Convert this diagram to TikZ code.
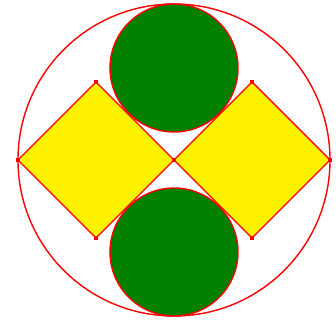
\documentclass[tikz,border=0pt]{standalone}
\begin{document}
\begin{tikzpicture}[x=1pt,y=1pt,
  ln/.style={draw=red,line width=1.4pt},
  mk/.style={fill=red,minimum size=4pt,inner sep=0pt,draw=none,rectangle}]
\useasboundingbox (0,0) rectangle (336,323);
\node[ln,circle,minimum size=312pt,inner sep=0pt] (big) at (174,163) {};
\node[ln,circle,fill={rgb,255:red,0;green,128;blue,0},minimum size=128pt,inner sep=0pt] (top) at (174,255) {};
\node[ln,circle,fill={rgb,255:red,0;green,128;blue,0},minimum size=128pt,inner sep=0pt] (bot) at (174,71) {};
\coordinate (l1) at (18,163);
\coordinate (l2) at (96,241);
\coordinate (c) at (174,163);
\coordinate (l4) at (96,85);
\coordinate (r2) at (252,241);
\coordinate (r3) at (330,163);
\coordinate (r4) at (252,85);
\draw[ln,fill=yellow,line join=miter] (l1) -- (l2) -- (c) -- (l4) -- cycle;
\draw[ln,fill=yellow,line join=miter] (c) -- (r2) -- (r3) -- (r4) -- cycle;
\foreach \p in {l1,l2,c,l4,r2,r3,r4} \node[mk] at (\p) {};
\end{tikzpicture}
\end{document}
